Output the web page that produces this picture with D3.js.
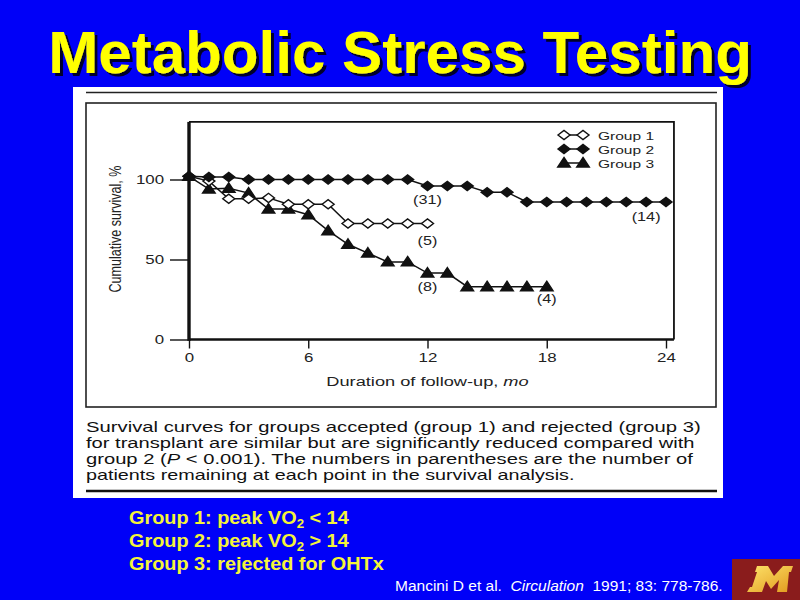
<!DOCTYPE html>
<html><head><meta charset="utf-8">
<script src="https://cdn.jsdelivr.net/npm/d3@7"></script>
<style>html,body{margin:0;padding:0;background:#0000f8;} svg{display:block}</style>
</head><body><svg id="c" width="800" height="600"></svg>
<script>
// ---------------- data ----------------
const months1 = d3.range(0, 13);
const group1  = [102, 99, 88, 88, 88.5, 84.5, 84.5, 84.5, 72.5, 72.5, 72.5, 72.5, 72.5];
const months2 = d3.range(0, 25);
const group2  = [102, 101.5, 101.5, 100, 100, 100, 100, 100, 100, 100, 100, 100,
                 96, 96, 96, 92, 92, 86, 86, 86, 86, 86, 86, 86, 86];
const months3 = d3.range(0, 19);
const group3  = [102, 94, 94.5, 91.5, 81.5, 81.5, 78, 68, 59.5, 54, 48.5, 48.5,
                 41.5, 41.5, 33, 33, 33, 33, 33];
const xTicks = [0, 6, 12, 18, 24];
const yTicks = [0, 50, 100];
const legendLabels = ["Group 1", "Group 2", "Group 3"];
const annoMonths = [12, 12, 12, 18, 23];
const annoLevels = [87.5, 62, 33, 25.5, 77];
const annoTexts  = ["(31)", "(5)", "(8)", "(4)", "(14)"];
const titleText = "Metabolic Stress Testing";
const xLabel = "Duration of follow-up, ";
const xLabelItalic = "mo";
const yLabel = "Cumulative survival, %";
const captionLines = [
  "Survival curves for groups accepted (group 1) and rejected (group 3)",
  "for transplant are similar but are significantly reduced compared with",
  ["group 2 (", "P", " < 0.001). The numbers in parentheses are the number of"],
  "patients remaining at each point in the survival analysis."
];
const noteLines = [
  ["Group 1: peak VO", "2", " < 14"],
  ["Group 2: peak VO", "2", " > 14"],
  ["Group 3: rejected for OHTx"]
];
const citation = ["Mancini D et al.\u00a0 ", "Circulation", "\u00a0 1991; 83: 778-786."];

// ---------------- helpers ----------------
const svg = d3.select("#c");
const FIG = "'Liberation Sans', Arial, sans-serif";
function addText(parent, o, build) {
  const t = parent.append("text")
    .attr("font-family", o.family || FIG)
    .attr("font-size", o.size)
    .attr("font-weight", o.weight || "normal")
    .attr("fill", o.fill || "#111")
    .attr("text-anchor", o.anchor || "start");
  if (o.style) t.attr("font-style", o.style);
  if (o.filter) t.attr("filter", o.filter);
  if (build) build(t); else t.text(o.text);
  let s = o.sx || 1;
  if (o.width) s = o.width / t.node().getComputedTextLength();
  t.attr("transform", `translate(${o.x},${o.y}) scale(${s},1)`);
  return s;
}

// ---------------- background ----------------
svg.append("rect").attr("width", 800).attr("height", 600).attr("fill", "#0000f8");
const defs = svg.append("defs");
defs.append("filter").attr("id", "shadow").attr("x", "-5%").attr("y", "-20%")
  .attr("width", "110%").attr("height", "150%")
  .append("feDropShadow").attr("dx", 3).attr("dy", 3).attr("stdDeviation", 0.6)
  .attr("flood-color", "#05052a").attr("flood-opacity", 1);

// title with shadow
addText(svg, {x: 400, y: 73, size: 60, weight: "bold", fill: "#ffff00", anchor: "middle",
  width: 704, text: titleText, filter: "url(#shadow)"});

// white figure panel
svg.append("rect").attr("x", 73).attr("y", 87).attr("width", 650).attr("height", 411).attr("fill", "#fff");
svg.append("line").attr("x1", 86).attr("x2", 717).attr("y1", 92.5).attr("y2", 92.5)
  .attr("stroke", "#222").attr("stroke-width", 1.6);
svg.append("rect").attr("x", 86).attr("y", 103).attr("width", 630).attr("height", 304)
  .attr("fill", "none").attr("stroke", "#222").attr("stroke-width", 1.6);
svg.append("line").attr("x1", 86).attr("x2", 717).attr("y1", 491).attr("y2", 491)
  .attr("stroke", "#111").attr("stroke-width", 2.6);

// ---------------- chart ----------------
const x = d3.scaleLinear().domain([0, 24]).range([189, 666]);
const y = d3.scaleLinear().domain([0, 100]).range([339.5, 179.5]);
const SX = 1.35;
const g = svg.append("g");

// frame
g.append("path")
  .attr("d", `M${x(0)},${y(136)} H${x(24.4)} V${y(0)}`)
  .attr("fill", "none").attr("stroke", "#111").attr("stroke-width", 1.8);
g.append("line").attr("x1", x(0)).attr("x2", x(24.4)).attr("y1", y(0)).attr("y2", y(0))
  .attr("stroke", "#111").attr("stroke-width", 2.6);
g.append("line").attr("x1", x(0)).attr("x2", x(0)).attr("y1", y(136)).attr("y2", y(0) + 1.3)
  .attr("stroke", "#111").attr("stroke-width", 3.4);

// axes (ticks from d3)
const yAx = g.append("g").attr("transform", `translate(${x(0)},0)`)
  .call(d3.axisLeft(y).tickValues(yTicks).tickSize(19).tickPadding(6));
const xAx = g.append("g").attr("transform", `translate(0,${y(0)})`)
  .call(d3.axisBottom(x).tickValues(xTicks).tickSize(9).tickPadding(5));
[yAx, xAx].forEach(a => {
  a.select(".domain").remove();
  a.selectAll(".tick line").attr("stroke", "#111").attr("stroke-width", 1.4);
  a.selectAll(".tick text").attr("font-family", FIG).attr("font-size", 12.5).attr("fill", "#222");
});
yAx.selectAll(".tick text").each(function () {
  const t = d3.select(this); const xx = +t.attr("x");
  t.attr("x", xx / SX).attr("transform", `scale(${SX},1)`);
});
xAx.selectAll(".tick text").attr("transform", `scale(${SX},1)`);

// axis labels
addText(g, {x: (x(0) + x(24)) / 2, y: 386, size: 13.5, anchor: "middle", sx: SX, fill: "#222"}, t => {
  t.append("tspan").text(xLabel);
  t.append("tspan").attr("font-style", "italic").text(xLabelItalic);
});
g.append("text").attr("font-family", "'Liberation Sans Narrow', 'Liberation Sans', sans-serif")
  .attr("font-size", 12.5).attr("fill", "#222").attr("text-anchor", "middle")
  .attr("textLength", 127).attr("lengthAdjust", "spacingAndGlyphs")
  .attr("transform", `translate(121,229) scale(${SX},1) rotate(-90)`)
  .text(yLabel);

// series
const series = [
  {m: months3, v: group3, shape: "tri", fill: "#111"},
  {m: months1, v: group1, shape: "dia", fill: "#fff"},
  {m: months2, v: group2, shape: "dia", fill: "#111"}
];
const line = d3.line().x(d => x(d[0])).y(d => y(d[1]));
series.forEach(s => {
  g.append("path").datum(d3.zip(s.m, s.v)).attr("d", line)
    .attr("fill", "none").attr("stroke", "#111").attr("stroke-width", 1.5);
});
function markerPath(shape, cx, cy) {
  const p = d3.path();
  if (shape === "dia") {
    p.moveTo(cx - 6, cy); p.lineTo(cx, cy - 4.6); p.lineTo(cx + 6, cy); p.lineTo(cx, cy + 4.6);
  } else {
    p.moveTo(cx, cy - 5.5); p.lineTo(cx + 6.3, cy + 4); p.lineTo(cx - 6.3, cy + 4);
  }
  p.closePath();
  return p.toString();
}
series.forEach(s => {
  g.selectAll(null).data(d3.zip(s.m, s.v)).join("path")
    .attr("d", d => markerPath(s.shape, x(d[0]), y(d[1])))
    .attr("fill", s.fill).attr("stroke", "#111").attr("stroke-width", 1.4)
    .attr("stroke-linejoin", "miter");
});

// annotations
annoTexts.forEach((txt, i) => {
  addText(g, {x: x(annoMonths[i]), y: y(annoLevels[i]) + 4.5, size: 12, anchor: "middle",
    sx: SX, fill: "#222", text: txt});
});

// legend
const legendShapes = [["dia", "#fff"], ["dia", "#111"], ["tri", "#111"]];
legendLabels.forEach((lab, i) => {
  const ly = 135 + i * 14;
  g.append("line").attr("x1", 564).attr("x2", 583).attr("y1", ly).attr("y2", ly)
    .attr("stroke", "#111").attr("stroke-width", 1.5);
  [564, 583].forEach(cx => {
    g.append("path").attr("d", markerPath(legendShapes[i][0], cx, ly))
      .attr("fill", legendShapes[i][1]).attr("stroke", "#111").attr("stroke-width", 1.4);
  });
  addText(g, {x: 598, y: ly + 4.5, size: 11.5, sx: SX, fill: "#222", text: lab});
});

// caption
const capWidths = [615, 609, 607, 489];
captionLines.forEach((ln, i) => {
  addText(svg, {x: 86, y: 432 + i * 16, size: 14, width: capWidths[i], fill: "#111"}, t => {
    if (Array.isArray(ln)) {
      t.append("tspan").text(ln[0]);
      t.append("tspan").attr("font-style", "italic").text(ln[1]);
      t.append("tspan").text(ln[2]);
    } else t.text(ln);
  });
});

// notes below
function buildNote(ln) {
  return t => {
    t.append("tspan").text(ln[0]);
    if (ln.length > 1) {
      t.append("tspan").attr("font-size", 12).attr("dy", 4).text(ln[1]);
      t.append("tspan").attr("dy", -4).text(ln[2]);
    }
  };
}
const noteScale = (() => {
  const t = svg.append("text").attr("font-family", FIG).attr("font-size", 18).attr("font-weight", "bold")
    .text(noteLines[2][0]);
  const w = t.node().getComputedTextLength(); t.remove();
  return 255 / w;
})();
noteLines.forEach((ln, i) => {
  addText(svg, {x: 129, y: 524 + i * 23, size: 18, weight: "bold", fill: "#f4f43a", sx: noteScale}, buildNote(ln));
});

// citation
addText(svg, {x: 395, y: 591, size: 15, width: 328, fill: "#fff"}, t => {
  t.append("tspan").text(citation[0]);
  t.append("tspan").attr("font-style", "italic").text(citation[1]);
  t.append("tspan").text(citation[2]);
});

// logo
svg.append("rect").attr("x", 732).attr("y", 559).attr("width", 68).attr("height", 41).attr("fill", "#8a1c1c");
const grad = defs.append("linearGradient").attr("id", "gold")
  .attr("x1", 0).attr("y1", 0).attr("x2", 1).attr("y2", 1);
grad.append("stop").attr("offset", 0).attr("stop-color", "#fde36a");
grad.append("stop").attr("offset", 1).attr("stop-color", "#e29a1e");
svg.append("path")
  .attr("d", "M757,566 L768,566 L774,576 L783,566 L793,566 L791,572 L789,572 L787,592 L777,592 L779,580 L771,589 L766,581 L762,592 L747,592 L750,587 L752,587 L757,572 L755,572 Z")
  .attr("fill", "url(#gold)");
</script>
</body></html>
